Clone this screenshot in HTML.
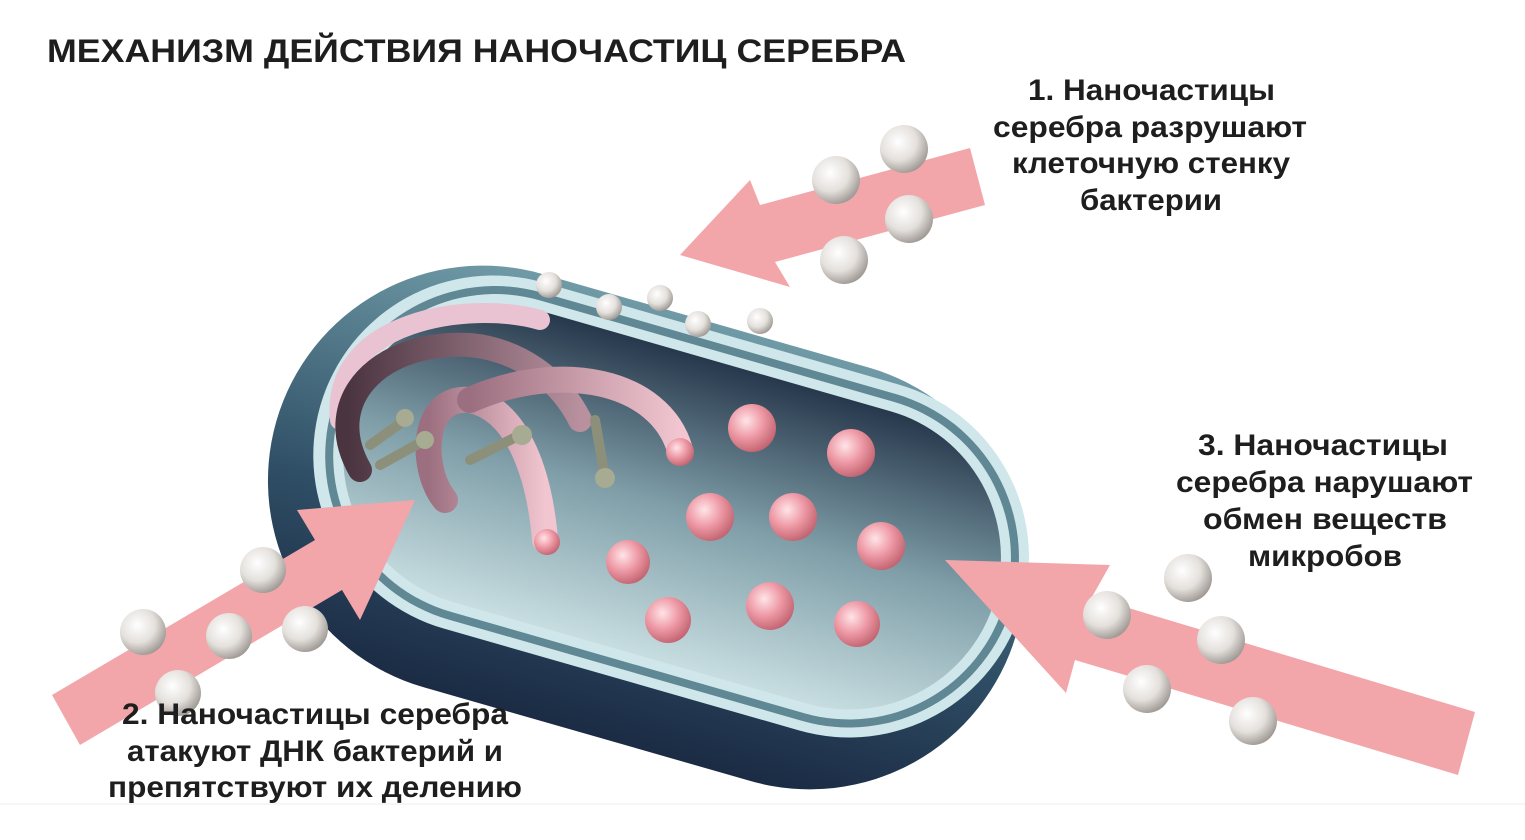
<!DOCTYPE html>
<html><head><meta charset="utf-8"><style>
html,body{margin:0;padding:0;background:#fff;}
svg{display:block}
text{font-family:"Liberation Sans",sans-serif;font-weight:bold;fill:#1e1e1e}
</style></head><body>
<svg width="1525" height="840" viewBox="0 0 1525 840" xmlns="http://www.w3.org/2000/svg">
<defs>
<radialGradient id="ball" cx="0.38" cy="0.35" r="0.7">
<stop offset="0" stop-color="#ffffff"/><stop offset="0.55" stop-color="#e4e0dc"/><stop offset="1" stop-color="#9a948f"/></radialGradient>
<radialGradient id="pball" cx="0.38" cy="0.35" r="0.7">
<stop offset="0" stop-color="#ffe4e8"/><stop offset="0.5" stop-color="#ee9aa6"/><stop offset="1" stop-color="#c0606e"/></radialGradient>
<linearGradient id="body" x1="0" y1="0" x2="0" y2="1">
<stop offset="0" stop-color="#6f9aa6"/><stop offset="0.6" stop-color="#2f4f66"/><stop offset="1" stop-color="#1b2b44"/></linearGradient>
<linearGradient id="inner" x1="0" y1="0" x2="0" y2="1">
<stop offset="0" stop-color="#27384c"/><stop offset="0.5" stop-color="#7f9ea8"/><stop offset="1" stop-color="#c7dde0"/></linearGradient>
<linearGradient id="dna1" x1="0" y1="0" x2="1" y2="0">
<stop offset="0" stop-color="#4a3440"/><stop offset="1" stop-color="#b8909e"/></linearGradient>
<linearGradient id="dna2" x1="0" y1="0" x2="1" y2="0">
<stop offset="0" stop-color="#9c6f80"/><stop offset="1" stop-color="#f2c6d0"/></linearGradient>
</defs>
<rect width="1525" height="840" fill="#fff"/>
<text x="47" y="62" font-size="32" textLength="859" lengthAdjust="spacingAndGlyphs">МЕХАНИЗМ ДЕЙСТВИЯ НАНОЧАСТИЦ СЕРЕБРА</text>

<polygon points="680,255 750,180 760,205 970,148 985,205 775,262 790,287" fill="#f3a6aa"/>
<g transform="rotate(16 645 525)">
<rect x="262" y="312" width="770" height="430" rx="215" fill="url(#body)"/>
<rect x="300" y="320" width="730" height="360" rx="180" fill="#cfe6ea"/>
<rect x="312" y="330" width="708" height="340" rx="170" fill="#5f8794"/>
<rect x="320" y="338" width="692" height="324" rx="162" fill="#cfe6ea"/>
<rect x="330" y="348" width="672" height="304" rx="152" fill="url(#inner)"/>
</g>
<g fill="none" stroke-linecap="round">
<path d="M540,320 C470,300 330,320 340,420" stroke="#e9c3d2" stroke-width="20"/>
<path d="M360,470 C320,400 380,340 470,345 C520,350 560,380 580,420" stroke="url(#dna1)" stroke-width="24"/>
<path d="M545,540 C540,480 520,410 470,400 C420,395 420,470 445,500" stroke="url(#dna2)" stroke-width="26"/>
<path d="M470,400 C560,360 660,380 680,450" stroke="url(#dna2)" stroke-width="26"/>
</g>
<g stroke="#8c907a" stroke-width="10" stroke-linecap="round">
<line x1="370" y1="445" x2="405" y2="420"/><line x1="380" y1="465" x2="425" y2="440"/>
<line x1="470" y1="460" x2="520" y2="435"/><line x1="595" y1="420" x2="605" y2="478"/>
</g>
<g fill="#a7ab92"><circle cx="405" cy="418" r="9"/><circle cx="425" cy="440" r="9"/><circle cx="522" cy="435" r="10"/><circle cx="605" cy="478" r="10"/></g>
<circle cx="680" cy="452" r="14" fill="url(#pball)"/><circle cx="547" cy="542" r="13" fill="url(#pball)"/>
<g fill="url(#pball)">
<circle cx="752" cy="428" r="24"/><circle cx="851" cy="453" r="24"/><circle cx="710" cy="517" r="24"/><circle cx="793" cy="517" r="24"/><circle cx="881" cy="546" r="24"/><circle cx="628" cy="562" r="22"/><circle cx="668" cy="620" r="23"/><circle cx="770" cy="606" r="24"/><circle cx="857" cy="624" r="23"/>
</g>
<g fill="url(#ball)">
<circle cx="549" cy="285" r="13"/><circle cx="609" cy="307" r="13"/><circle cx="660" cy="298" r="13"/><circle cx="698" cy="324" r="13"/><circle cx="760" cy="321" r="13"/>
</g>
<polygon points="415,500 360,620 342,590 80,745 52,695 315,540 297,510" fill="#f3a6aa"/>
<polygon points="945,560 1110,565 1092,597 1475,712 1458,775 1075,660 1066,693" fill="#f3a6aa"/>
<g fill="url(#ball)">
<circle cx="904" cy="149" r="24"/><circle cx="836" cy="180" r="24"/><circle cx="909" cy="219" r="24"/><circle cx="844" cy="260" r="24"/>
<circle cx="263" cy="570" r="23"/><circle cx="143" cy="632" r="23"/><circle cx="229" cy="636" r="23"/><circle cx="305" cy="629" r="23"/><circle cx="178" cy="693" r="23"/>
<circle cx="1188" cy="578" r="24"/><circle cx="1107" cy="615" r="24"/><circle cx="1221" cy="640" r="24"/><circle cx="1147" cy="689" r="24"/><circle cx="1253" cy="721" r="24"/>
</g>
<g font-size="30">
<text x="1028" y="100" textLength="247" lengthAdjust="spacingAndGlyphs">1. Наночастицы</text>
<text x="993" y="137" textLength="314" lengthAdjust="spacingAndGlyphs">серебра разрушают</text>
<text x="1012" y="173" textLength="278" lengthAdjust="spacingAndGlyphs">клеточную стенку</text>
<text x="1080" y="210" textLength="142" lengthAdjust="spacingAndGlyphs">бактерии</text>
<text x="1198" y="455" textLength="250" lengthAdjust="spacingAndGlyphs">3. Наночастицы</text>
<text x="1176" y="492" textLength="297" lengthAdjust="spacingAndGlyphs">серебра нарушают</text>
<text x="1203" y="529" textLength="244" lengthAdjust="spacingAndGlyphs">обмен веществ</text>
<text x="1248" y="566" textLength="154" lengthAdjust="spacingAndGlyphs">микробов</text>
<text x="122" y="724" textLength="386" lengthAdjust="spacingAndGlyphs">2. Наночастицы серебра</text>
<text x="127" y="761" textLength="376" lengthAdjust="spacingAndGlyphs">атакуют ДНК бактерий и</text>
<text x="108" y="797" textLength="414" lengthAdjust="spacingAndGlyphs">препятствуют их делению</text>
</g>
<line x1="0" y1="804" x2="1525" y2="804" stroke="#eeeeee" stroke-width="1"/>
</svg>
</body></html>
